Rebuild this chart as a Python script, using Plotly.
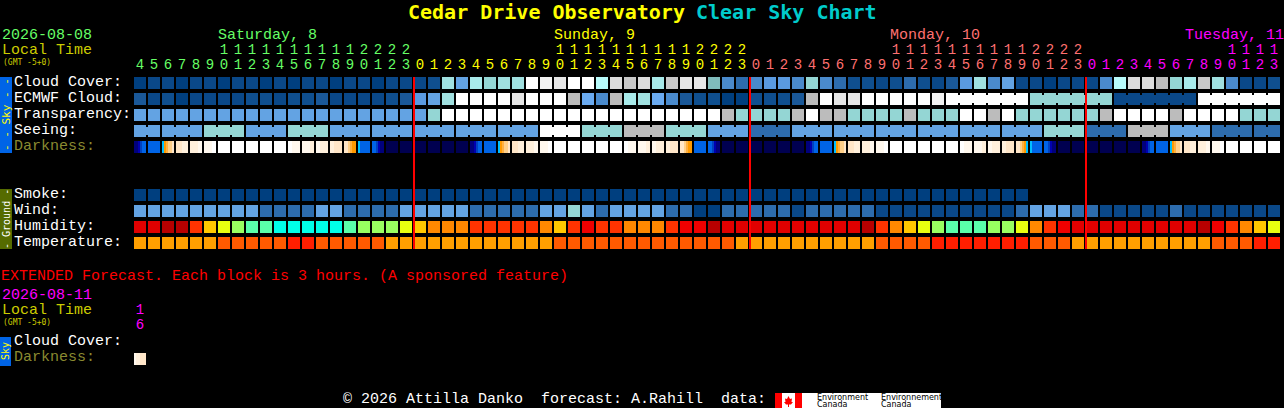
import plotly.graph_objects as go

# ---------- data (level indices) ----------
HOURS = [4,5,6,7,8,9,10,11,12,13,14,15,16,17,18,19,20,21,22,23] + list(range(24)) + list(range(24)) + list(range(14))
DAY_OF_COL = [0]*20 + [1]*24 + [2]*24 + [3]*14
DAY_HEADERS = ["Saturday, 8", "Sunday, 9", "Monday, 10", "Tuesday, 11"]

CLOUD = [0,1,1,0,1,1,0,1,1,0,1,0,1,1,0,1,1,0,1,1,1,2,
         11,7,12,10,11,11,19,18,17,19,19,13,16,15,16,12,15,17,17,9,5,4,5,6,6,5,10,5,4,2,
         2,1,2,4,2,1,3,6,11,5,7,1,1,0,1,1,1,5,13,16,16,14,10,12,15,11,5,1,1,2]
ECMWF = [3,1,2,0,1,1,1,1,2,2,1,2,2,3,1,1,1,1,2,3,6,7,
         11,19,19,19,19,17,19,19,19,14,8,5,14,12,11,8,5,3,2,2,0,0,2,2,2,3,14,19,17,17,
         19,19,19,19,19,18,19,19,19,19,19,19,10,10,10,10,10,10,1,1,1,1,1,1,19,19,19,19,19,19]
TRANSPARENCY = [7]*21 + [10] + [19]*20 + [14,10,10,10,10,14,19,14,14,10,
                10,10,10,14,10,10,10,19,19,14,19,10,10,10,10,10,10,14,19,19,19,19,14,19,19,19,19,10,10,10]
SEEING_GROUP_SIZES = [2] + [3]*26 + [2]
SEEING_GROUPS = [7,7,10,7,10,7,7,7,7,7,19,10,14,10,7,4,7,7,7,7,7,7,10,4,14,7,4,4]
ECMWF_MERGED_RUNS = [(58,63),(64,69),(70,75),(76,81)]
SMOKE = [0]*64
WIND = [7,7,7,7,7,7,7,7,7,4,4,4,4,7,7,4,4,4,4,7,7,7,
        7,7,4,4,4,4,4,7,7,10,7,4,7,7,7,7,4,4,0,0,4,4,4,4,4,1,4,4,4,4,
        4,1,1,1,1,1,1,1,1,1,1,4,7,7,7,4,4,1,1,1,1,1,4,1,1,1,1,1,1,1]
HUMIDITY = [1,1,0,0,3,5,6,7,8,8,9,9,9,9,9,8,7,7,7,6,5,4,
            4,4,3,3,3,3,3,4,5,3,2,3,3,4,4,4,3,2,2,0,1,1,1,1,1,1,1,1,1,1,
            0,3,4,5,6,7,8,8,8,7,7,6,4,3,2,1,1,1,1,1,1,1,1,1,0,2,3,4,5,6]
TEMPERATURE = [2,2,2,2,2,2,1,1,1,1,1,0,0,1,1,1,1,1,2,2,2,2,
               2,2,2,2,2,2,2,2,1,1,1,1,1,1,1,1,1,1,1,1,1,2,2,2,2,2,2,2,2,2,
               2,1,1,1,1,0,0,0,0,0,0,0,1,1,1,2,2,2,2,2,2,2,2,2,2,1,1,1,0,0]
DARKNESS = ["112344","444444","567889","999aaa","aaaabb","bbbbcc",
            "cccccc","cccccc","cccccc","cccccc","cccccc","ccbbbb","bbbbaa","bbaaaa","aa9999","998766",
            "544444","443211","000000","000000","000000","000000","000000","000000",
            "112344","444444","567889","999aaa","aaaabb","bbbbcc",
            "cccccc","cccccc","cccccc","cccccc","cccccc","ccbbbb","bbbbaa","bbaaaa","aa9999","998766",
            "444444","443211","000000","000000","000000","000000","000000","000000",
            "112344","444444","567889","999aaa","aaaabb","bbbbcc",
            "cccccc","cccccc","cccccc","cccccc","cccccc","ccbbbb","bbbbaa","bbaaaa","aa9999","998765",
            "544444","443211","000000","000000","000000","000000","000000","000000",
            "112344","444444","567889","999aaa","aaaabb","bbbbcc",
            "cccccc","cccccc","cccccc","cccccc"]
EXT_DARKNESS = ["baa999"]
EXT_HOUR = ["1", "6"]

# ---------- palettes ----------
SKY_COLORS = ["#003f7f","#0a4888","#0f4f8f","#1a5898","#2d6cad","#4a8acc","#5a9ae0","#63a3e3","#6aaaf0","#80bcbc",
              "#94d6d4","#a0e0e0","#a8eaea","#b8fbfb","#bcbcbc","#c8c8c8","#dcdcdc","#e6e6e6","#f2f2f2","#ffffff"]
HUM_COLORS = ["#b80000","#e00000","#f00000","#ff3300","#ff8800","#ffc800","#e8ff10","#98ff60","#5affaa","#00ffe8"]
TEMP_COLORS = ["#ff1e00","#ff5a00","#ff9f00"]
DARK_COLORS = ["#000050","#00007c","#0000b0","#0040c0","#0064e6","#00bfff","#ff9a00","#ffb040","#ffcf88","#ffe6c8",
               "#fff0dc","#fff8ee","#ffffff"]
DAY_COLORS = ["#66ff66","#ffff00","#ff7070","#ff00ff"]
MONO = "Liberation Mono"

W, H = 1284, 408
PITCH_X, PITCH_Y = 14, 16
COL0_PX, ROW0_PX = 140, 83
ROW = dict(cloud=0, ecmwf=1, transparency=2, seeing=3, darkness=4, smoke=7, wind=8, humidity=9, temperature=10)


def col_of(px):
    return (px - COL0_PX) / PITCH_X


def row_of(py):
    return (py - ROW0_PX) / PITCH_Y


def stepped(colors):
    n = len(colors)
    scale = []
    for i, c in enumerate(colors):
        scale += [[i / n, c], [(i + 1) / n, c]]
    return scale


def grid(rows):
    n = len(HOURS)
    top = max(rows) + 1
    return [[(rows[r][c] if r in rows and c < len(rows[r]) else None) for c in range(n)] for r in range(top)]


def cell_map(colors, rows):
    return go.Heatmap(z=grid(rows), x0=0, dx=1, y0=0, dy=1, colorscale=stepped(colors), zmin=-0.5,
                      zmax=len(colors) - 0.5, xgap=2, ygap=4, showscale=False, hoverinfo="skip")


def sub_map(cells, y):
    z = []
    for cell in cells:
        z += [int(ch, 16) for ch in cell] + [None]
    return go.Heatmap(z=[z], x0=-5 / 14, dx=1 / 7, y0=y, dy=1, colorscale=stepped(DARK_COLORS), zmin=-0.5,
                      zmax=len(DARK_COLORS) - 0.5, xgap=0, ygap=4, showscale=False, hoverinfo="skip")


seeing = []
for size, value in zip(SEEING_GROUP_SIZES, SEEING_GROUPS):
    seeing += [value] * size

fig = go.Figure()
fig.add_trace(cell_map(SKY_COLORS, {ROW["cloud"]: CLOUD, ROW["ecmwf"]: ECMWF, ROW["transparency"]: TRANSPARENCY,
                                    ROW["seeing"]: seeing, ROW["smoke"]: SMOKE, ROW["wind"]: WIND}))
fig.add_trace(cell_map(HUM_COLORS, {ROW["humidity"]: HUMIDITY}))
fig.add_trace(cell_map(TEMP_COLORS, {ROW["temperature"]: TEMPERATURE}))
fig.add_trace(sub_map(DARKNESS, ROW["darkness"]))
fig.add_trace(sub_map(EXT_DARKNESS, row_of(359)))


def bridge(first, last, row, level):
    fig.add_trace(go.Scatter(x=[first, last], y=[row, row], mode="lines", hoverinfo="skip",
                             line=dict(color=SKY_COLORS[level], width=8), showlegend=False))


start = 0
for size, value in zip(SEEING_GROUP_SIZES, SEEING_GROUPS):
    bridge(start, start + size - 1, ROW["seeing"], value)
    start += size
for first, last in ECMWF_MERGED_RUNS:
    bridge(first, last, ROW["ecmwf"], ECMWF[first])

# hour digits, through the data axes
col_colors = [DAY_COLORS[d] for d in DAY_OF_COL]
tens_cols = [i for i, h in enumerate(HOURS) if h >= 10]
DIGIT_SIZE = 14
fig.add_trace(go.Scatter(x=tens_cols, y=[row_of(50)] * len(tens_cols), mode="text", hoverinfo="skip",
                         text=[str(HOURS[i] // 10) for i in tens_cols],
                         textfont=dict(family=MONO, size=DIGIT_SIZE, color=[col_colors[i] for i in tens_cols]),
                         showlegend=False, cliponaxis=False))
fig.add_trace(go.Scatter(x=list(range(len(HOURS))), y=[row_of(65)] * len(HOURS), mode="text", hoverinfo="skip",
                         text=[str(h % 10) for h in HOURS],
                         textfont=dict(family=MONO, size=DIGIT_SIZE, color=col_colors),
                         showlegend=False, cliponaxis=False))
fig.add_trace(go.Scatter(x=[0, 0], y=[row_of(310.5), row_of(325.5)], mode="text", hoverinfo="skip", text=EXT_HOUR,
                         textfont=dict(family=MONO, size=DIGIT_SIZE, color=DAY_COLORS[3]),
                         showlegend=False, cliponaxis=False))


def label(text, x, y, color="#ffffff", size=15, font=MONO, angle=0, anchor="left"):
    return dict(text=text, xref="paper", yref="paper", x=x / W, y=1 - y / H, xanchor=anchor, yanchor="middle",
                showarrow=False, borderpad=0, textangle=angle, font=dict(family=font, size=size, color=color))


OLIVE = "#8a8a30"
LOCAL = "#cccc00"
SANS_MONO = "DejaVu Sans Mono"
annotations = [
    label("<b>Cedar Drive Observatory</b>", 407, 12, "#ffff00", 20, SANS_MONO),
    label("<b>Clear Sky Chart</b>", 695, 12, "#00cccc", 20, SANS_MONO),
    label("2026-08-08", 1, 35, DAY_COLORS[0]),
    label("Local Time", 1, 50, LOCAL),
    label("(GMT -5+0)", 2, 62, LOCAL, 8, SANS_MONO),
    label(DAY_HEADERS[0], 217, 35, DAY_COLORS[0]),
    label(DAY_HEADERS[1], 553, 35, DAY_COLORS[1]),
    label(DAY_HEADERS[2], 889, 35, DAY_COLORS[2]),
    label(DAY_HEADERS[3], 1184, 35, DAY_COLORS[3]),
    label("Cloud Cover:", 13, 82.5),
    label("ECMWF Cloud:", 13, 98),
    label("Transparency:", 13, 114),
    label("Seeing:", 13, 130),
    label("Darkness:", 13, 146, OLIVE),
    label("Smoke:", 13, 194),
    label("Wind:", 13, 210.5),
    label("Humidity:", 13, 226),
    label("Temperature:", 13, 242),
    label("EXTENDED Forecast. Each block is 3 hours. (A sponsored feature)", 0, 276, "#ff0000"),
    label("2026-08-11", 1, 295, DAY_COLORS[3]),
    label("Local Time", 1, 310, LOCAL),
    label("(GMT -5+0)", 2, 322, LOCAL, 8, SANS_MONO),
    label("Cloud Cover:", 13, 341),
    label("Darkness:", 13, 357.5, OLIVE),
    label("- - Sky - -", 6, 115, "#ffff00", 11, SANS_MONO, angle=-90, anchor="center"),
    label("- Ground -", 6, 219, "#ffffff", 10, SANS_MONO, angle=-90, anchor="center"),
    label("Sky", 5, 351, "#ffff00", 10, SANS_MONO, angle=-90, anchor="center"),
    label("© 2026 Attilla Danko  forecast: A.Rahill  data:", 342, 399),
    label("Environment", 816, 397, "#000000", 8, "DejaVu Sans"),
    label("Canada", 816, 404, "#000000", 8, "DejaVu Sans"),
    label("Environnement", 880, 397, "#000000", 8, "DejaVu Sans"),
    label("Canada", 880, 404, "#000000", 8, "DejaVu Sans"),
]


def rect(x0, y0, x1, y1, color):
    return dict(type="rect", xref="paper", yref="paper", x0=x0 / W, x1=x1 / W, y0=1 - y0 / H, y1=1 - y1 / H,
                fillcolor=color, line_width=0, layer="below")


LEAF = [(788.5, 396), (790, 399), (792, 398.5), (791.5, 402), (793, 402), (791, 404.5), (789, 404.5), (789, 407),
        (788, 407), (788, 404.5), (786, 404.5), (784, 402), (785.5, 402), (785, 398.5), (787, 399)]
leaf_path = "M " + " L ".join(f"{x / W:.5f},{1 - y / H:.5f}" for x, y in LEAF) + " Z"
shapes = [
    rect(0, 77, 12, 153, "#0064e6"),
    rect(0, 189, 12, 249, "#556b00"),
    rect(0, 337, 11, 366, "#0064e6"),
    rect(775, 393, 941, 408, "#ffffff"),
    rect(775, 393, 782, 408, "#ff0000"),
    rect(795, 393, 802, 408, "#ff0000"),
    dict(type="path", path=leaf_path, xref="paper", yref="paper", fillcolor="#ff0000", line_width=0, layer="below"),
]
for col, hour in enumerate(HOURS):
    if hour == 0:
        x = col - 6 / PITCH_X
        shapes.append(dict(type="line", xref="x", yref="y", x0=x, x1=x, y0=row_of(77), y1=row_of(249),
                           line=dict(color="#ff0000", width=2), layer="above"))

fig.update_layout(
    width=W, height=H, autosize=False, margin=dict(l=0, r=0, t=0, b=0, pad=0),
    paper_bgcolor="#000000", plot_bgcolor="#000000", showlegend=False,
    xaxis=dict(range=[col_of(0), col_of(W)], visible=False, domain=[0, 1], fixedrange=True),
    yaxis=dict(range=[row_of(H), row_of(0)], visible=False, domain=[0, 1], fixedrange=True),
    annotations=annotations, shapes=shapes,
)
fig.write_html("out.html", config=dict(displayModeBar=False),
               post_script="document.body.style.margin='0';document.body.style.background='#000';"
                           "document.documentElement.style.overflow='hidden';")
